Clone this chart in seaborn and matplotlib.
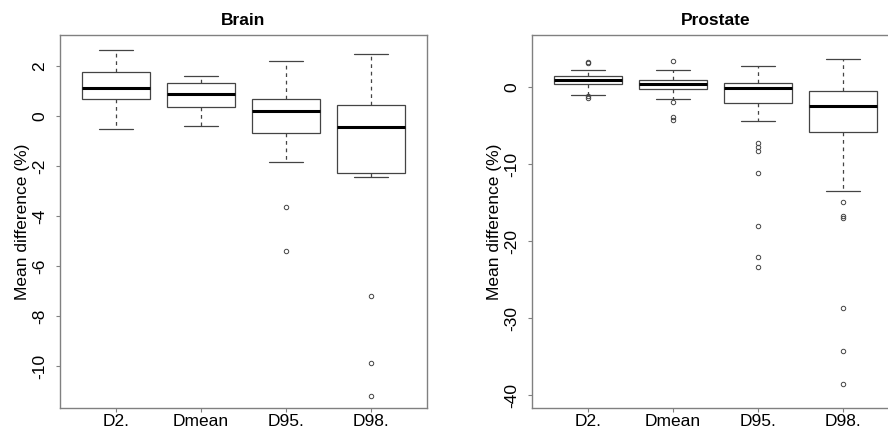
import pandas as pd
import matplotlib
matplotlib.use("Agg")
import matplotlib.pyplot as plt
import seaborn as sns

# dose metrics on the x axis
metrics = ["D2.", "Dmean", "D95.", "D98."]

# Brain: mean difference (%) per case, read/estimated from the boxes and outliers
brain_d2 = [-0.52, 0.35, 0.68, 0.95, 1.12, 1.40, 1.77, 2.10, 2.67]
brain_dmean = [-0.39, 0.10, 0.39, 0.65, 0.88, 1.10, 1.33, 1.50, 1.63]
brain_d95 = [-5.39, -3.61, -1.83, -0.65, -0.40, -0.10, 0.21, 0.40, 0.55,
             0.71, 1.10, 1.60, 2.20]
brain_d98 = [-11.17, -9.88, -7.19, -2.43, -2.27, -1.90, -1.40, -0.90, -0.44,
             -0.20, 0.05, 0.30, 0.47, 0.90, 1.40, 1.95, 2.47]

# Prostate
prostate_d2 = [-1.34, -1.17, -0.93, 0.10, 0.48, 0.65, 0.78, 0.88, 0.96,
               1.05, 1.15, 1.30, 1.43, 1.80, 2.21, 3.10, 3.30]
prostate_dmean = [-4.20, -3.85, -1.95, -1.51, -0.21, 0.00, 0.18, 0.33, 0.48,
                  0.60, 0.70, 0.80, 0.91, 1.30, 1.80, 2.30, 3.38]
prostate_d95 = [-23.3, -22.0, -18.0, -11.13, -8.32, -7.75, -7.23, -4.37, -1.99,
                -1.70, -1.40, -1.15, -0.90, -0.70, -0.50, -0.30, -0.13, -0.02,
                0.08, 0.18, 0.27, 0.35, 0.43, 0.50, 0.57, 0.80, 1.05, 1.30,
                1.60, 1.90, 2.20, 2.50, 2.78]
prostate_d98 = [-38.5, -34.3, -28.6, -17.0, -16.7, -14.9, -13.5, -5.80, -5.20,
                -4.70, -4.20, -3.70, -3.30, -2.90, -2.47, -2.20, -1.90, -1.60,
                -1.30, -1.00, -0.75, -0.52, 0.10, 0.70, 1.30, 1.90, 2.50, 3.10,
                3.73]

brain_ticks = [-10, -8, -6, -4, -2, 0, 2]
prostate_ticks = [-40, -30, -20, -10, 0]


def long_form(groups):
    rows = []
    for name, vals in zip(metrics, groups):
        for v in vals:
            rows.append({"metric": name, "value": v})
    return pd.DataFrame(rows)


brain = long_form([brain_d2, brain_dmean, brain_d95, brain_d98])
prostate = long_form([prostate_d2, prostate_dmean, prostate_d95, prostate_d98])

sns.set_style("ticks")
plt.rcParams["font.family"] = ["Liberation Sans", "DejaVu Sans"]
plt.rcParams["axes.unicode_minus"] = False
plt.rcParams["text.color"] = "black"
plt.rcParams["axes.labelcolor"] = "black"
plt.rcParams["xtick.labelcolor"] = "black"
plt.rcParams["ytick.labelcolor"] = "black"

fig = plt.figure(figsize=(8.88, 4.3), dpi=100)
ax1 = fig.add_axes([60 / 888, 22 / 430, 367 / 888, 373 / 430])
ax2 = fig.add_axes([532 / 888, 22 / 430, 367 / 888, 373 / 430])

panels = [
    (ax1, brain, "Brain", brain_ticks, (-11.67, 3.25)),
    (ax2, prostate, "Prostate", prostate_ticks, (-41.65, 6.8)),
]

for ax, df, title, yt, ylim in panels:
    sns.boxplot(
        data=df, x="metric", y="value", order=metrics, ax=ax,
        color="white", linecolor="#444444", linewidth=0.9, width=0.8,
        whis=1.5,
        medianprops={"color": "black", "linewidth": 2.2},
        whiskerprops={"linestyle": (0, (3, 3))},
        flierprops={"marker": "o", "markersize": 3.2,
                    "markerfacecolor": "none", "markeredgecolor": "#444444",
                    "markeredgewidth": 0.7},
    )
    ax.set_xlim(-0.66, 3.66)
    ax.set_ylim(*ylim)
    ax.set_yticks(yt)
    ax.set_title(title, fontsize=12.5, fontweight="bold", pad=7, color="black")
    ax.set_xlabel("")
    ax.set_ylabel("Mean difference (%)", fontsize=12.5, labelpad=1.5)
    for s in ax.spines.values():
        s.set_visible(True)
        s.set_color("#808080")
        s.set_linewidth(1.0)
    ax.tick_params(axis="x", length=3, width=0.8, color="#808080",
                   labelsize=12.5, pad=1.5, labelcolor="black")
    ax.tick_params(axis="y", length=3, width=0.8, color="#808080",
                   labelsize=12.5, pad=6, labelrotation=90, labelcolor="black")
    for lbl in ax.get_yticklabels():
        lbl.set_va("center")

fig.savefig("out.png", dpi=100)
